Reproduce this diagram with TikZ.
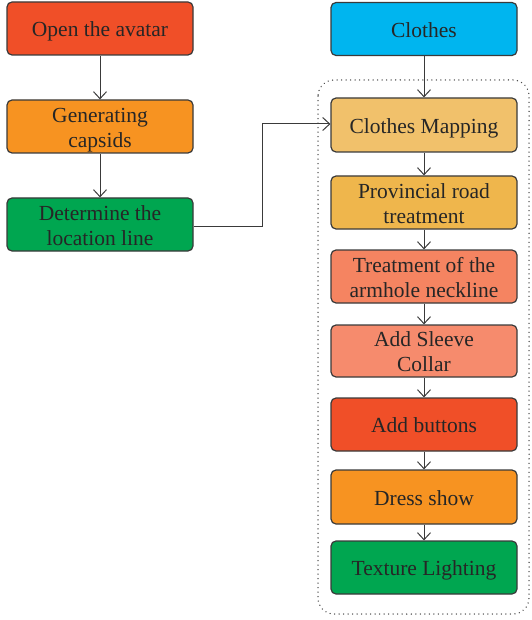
\documentclass[tikz,border=0pt]{standalone}
\usepackage{fontspec}
\setmainfont{Liberation Serif}
\usetikzlibrary{arrows.meta}
\definecolor{cRed}{HTML}{F04F28}
\definecolor{cOrange}{HTML}{F79321}
\definecolor{cGreen}{HTML}{00A650}
\definecolor{cBlue}{HTML}{00B5EF}
\definecolor{cLightOr}{HTML}{F1C16B}
\definecolor{cYellowOr}{HTML}{EFB64C}
\definecolor{cSalmon}{HTML}{F58461}
\definecolor{cSalmonB}{HTML}{F68B6D}
\definecolor{cLine}{HTML}{3A3A3A}
\newcommand{\boxtext}[1]{\raisebox{-8.3pt}[0pt][0pt]{\begin{tabular}{@{}c@{}}#1\end{tabular}}}
\begin{document}
\begin{tikzpicture}[x=1pt,y=-1pt,
  box/.style={draw=cLine, line width=1.2pt, rounded corners=5pt, minimum width=186pt,
    inner sep=0pt, align=center, text=black!85,
    font=\fontsize{21.5}{25}\selectfont},
  conn/.style={draw=cLine, line width=1pt, -{Straight Barb[length=7pt,width=13pt,line width=1pt]}},
  frame/.style={draw=cLine!90, line width=1.5pt, dash pattern=on 0.01pt off 4.5pt, line cap=round, rounded corners=16pt}]
\useasboundingbox (0,0) rectangle (531,620);
% left column
\node[box, fill=cRed, minimum height=53pt] (a1) at (100,28.5) {\boxtext{Open the avatar}};
\node[box, fill=cOrange, minimum height=53pt] (a2) at (100,126.5) {\boxtext{Generating\\capsids}};
\node[box, fill=cGreen, minimum height=53pt] (a3) at (100,224.5) {\boxtext{Determine the\\location line}};
% right column
\node[box, fill=cBlue, minimum height=53pt] (b0) at (424,29) {\boxtext{Clothes}};
\node[box, fill=cLightOr, minimum height=54pt] (b1) at (424,125) {\boxtext{Clothes Mapping}};
\node[box, fill=cYellowOr, minimum height=53pt] (b2) at (424,202.5) {\boxtext{Provincial road\\treatment}};
\node[box, fill=cSalmon, minimum height=53pt] (b3) at (424,276.5) {\boxtext{Treatment of the\\armhole neckline}};
\node[box, fill=cSalmonB, minimum height=52pt] (b4) at (424,351) {\boxtext{Add Sleeve\\Collar}};
\node[box, fill=cRed, minimum height=53pt] (b5) at (424,424.5) {\boxtext{Add buttons}};
\node[box, fill=cOrange, minimum height=54pt] (b6) at (424,497) {\boxtext{Dress show}};
\node[box, fill=cGreen, minimum height=53pt] (b7) at (424,567.5) {\boxtext{Texture Lighting}};
% dotted frame
\draw[frame] (318,80) rectangle (529,614);
% connectors
\draw[conn] (a1) -- (a2);
\draw[conn] (a2) -- (a3);
\draw[conn] (b0) -- (b1);
\draw[conn] (b1) -- (b2);
\draw[conn] (b2) -- (b3);
\draw[conn] (b3) -- (b4);
\draw[conn] (b4) -- (b5);
\draw[conn] (b5) -- (b6);
\draw[conn] (b6) -- (b7);
\coordinate (e1) at (262,226);
\coordinate (e2) at (262,124);
\draw[conn] (a3.east |- e1) -- (e1) -- (e2) -- (b1.west |- e2);
\end{tikzpicture}
\end{document}
